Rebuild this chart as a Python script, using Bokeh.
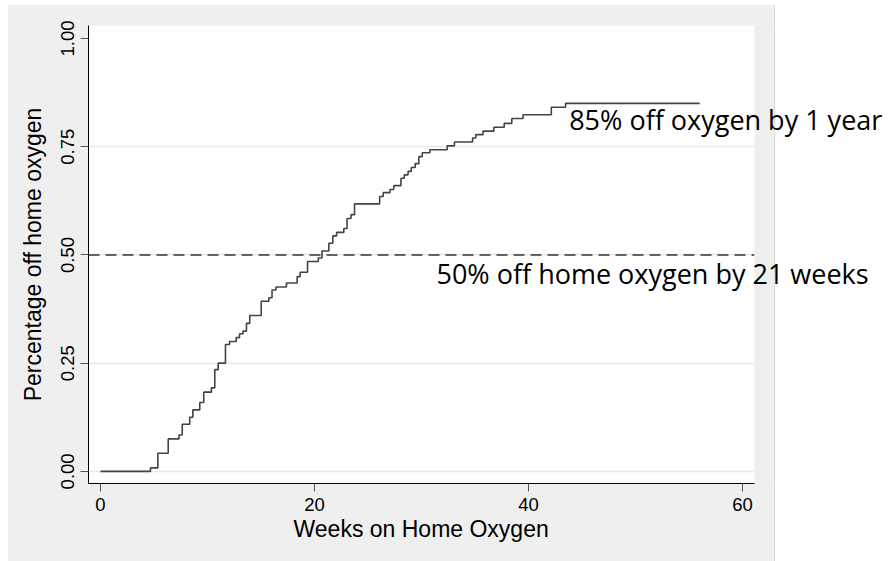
from bokeh.plotting import figure
from bokeh.models import Label, FixedTicker, Range1d, NumeralTickFormatter, Title
from bokeh.embed import file_html
from bokeh.resources import INLINE

# Kaplan-Meier style step data (weeks on home oxygen vs proportion off oxygen)
weeks = [0, 4.67, 5.36, 6.33, 7.34, 7.64, 8.34, 8.63, 9.28, 9.65, 10.36,
         10.68, 11.00, 11.68, 12.06, 12.68, 12.99, 13.32, 13.64, 13.95, 15.02,
         15.73, 16.03, 16.40, 17.38, 18.38, 18.66, 19.35, 20.35, 20.70, 21.34,
         21.71, 22.06, 22.74, 23.04, 23.41, 23.74, 26.09, 26.42, 27.06, 27.41,
         28.08, 28.39, 28.74, 29.04, 29.41, 29.75, 30.07, 30.78, 32.40, 33.08,
         34.77, 35.07, 35.75, 36.76, 37.73, 38.44, 39.49, 42.13, 43.46, 56.0]
prop_off = [0, 0.008, 0.042, 0.075, 0.084, 0.109, 0.125, 0.142, 0.159, 0.183, 0.193,
            0.235, 0.250, 0.293, 0.300, 0.309, 0.318, 0.324, 0.342, 0.360, 0.393,
            0.401, 0.419, 0.426, 0.435, 0.450, 0.460, 0.485, 0.493, 0.509, 0.527,
            0.544, 0.552, 0.561, 0.584, 0.593, 0.618, 0.635, 0.644, 0.651, 0.660,
            0.677, 0.685, 0.693, 0.702, 0.711, 0.727, 0.736, 0.743, 0.752, 0.761,
            0.770, 0.778, 0.786, 0.795, 0.804, 0.815, 0.824, 0.841, 0.850, 0.850]

x_ticks = [0, 20, 40, 60]
y_ticks = [0, 0.25, 0.5, 0.75, 1.0]
grid_ticks = [0, 0.25, 0.5, 0.75]
median_level = 0.5
x_title = "Weeks on Home Oxygen"
y_title = "Percentage off home oxygen"
note_85 = "85% off oxygen by 1 year"
note_85_pos = (43.8, 0.812)
note_50 = "50% off home oxygen by 21 weeks"
note_50_pos = (31.4, 0.458)

# plot region bounds (data units) and the extra room on the right for the notes
x_lo, x_hi = -1.12, 61.1
panel_edge = 63.0
x_view_hi = 73.64
y_lo, y_hi = -0.028, 1.03

GREY = "#efefef"
bg = ("linear-gradient(to bottom, #ffffff 0px, #ffffff 5px, transparent 5px), "
      "linear-gradient(to right, #ffffff 0px, #ffffff 8px, " + GREY + " 8px, " + GREY +
      " 774px, #d9d9d9 774px, #d9d9d9 775px, #ffffff 775px)")

p = figure(width=888, height=561, output_backend="svg", toolbar_location=None,
           x_range=Range1d(x_lo, x_view_hi), y_range=Range1d(y_lo, y_hi),
           min_border_left=88, min_border_right=0, min_border_top=25,
           min_border_bottom=78,
           background_fill_color="white", border_fill_color=None,
           styles={"background": bg})
p.outline_line_color = None

p.xgrid.visible = False
p.ygrid.ticker = FixedTicker(ticks=grid_ticks)
p.ygrid.grid_line_color = "#e8e8e8"
p.ygrid.grid_line_width = 1.5

p.xaxis.ticker = FixedTicker(ticks=x_ticks)
p.xaxis.bounds = (x_lo, x_hi)
p.yaxis.ticker = FixedTicker(ticks=y_ticks)
p.yaxis.formatter = NumeralTickFormatter(format="0.00")
p.yaxis.major_label_orientation = "vertical"

for ax in (p.xaxis[0], p.yaxis[0]):
    ax.axis_line_color = "black"
    ax.axis_line_width = 1
    ax.major_tick_in = 0
    ax.major_tick_out = 8
    ax.major_tick_line_color = "#555555"
    ax.minor_tick_line_color = None
    ax.major_label_text_font = "Liberation Sans"
    ax.major_label_text_font_size = "18.5px"
    ax.major_label_text_color = "black"
    ax.axis_label_text_font = "Liberation Sans"
    ax.axis_label_text_font_size = "23px"
    ax.axis_label_text_font_style = "normal"
    ax.axis_label_text_color = "black"

p.yaxis.axis_label = y_title
p.xaxis.major_label_standoff = 6
p.yaxis.major_label_standoff = 6
p.yaxis.axis_label_standoff = 13

# x-axis title centred under the plot region (not under the notes area)
p.add_layout(Title(text=x_title, align="left", offset=205, standoff=0,
                   text_font="Liberation Sans", text_font_size="23px",
                   text_font_style="normal", text_color="black"), "below")

# grey strip of the panel and white page area right of the plot region
p.quad(left=[x_hi, panel_edge], right=[panel_edge, x_view_hi + 5],
       bottom=[y_lo - 1] * 2, top=[y_hi + 1] * 2,
       fill_color=[GREY, "#ffffff"], line_color=None)
p.segment(x0=[panel_edge], x1=[panel_edge], y0=[y_lo - 1], y1=[y_hi + 1],
          line_color="#d9d9d9", line_width=1)

# dashed reference line at 50%
p.line([x_lo, x_hi], [median_level, median_level], line_color="#333333",
       line_width=1.5, line_dash="11 6")

p.step(weeks, prop_off, mode="after", line_color="#444444", line_width=1.6)

for txt, pos in ((note_85, note_85_pos), (note_50, note_50_pos)):
    p.add_layout(Label(x=pos[0], y=pos[1], text=txt, text_font="Open Sans",
                       text_font_size="27px", text_color="black",
                       text_align="left", text_baseline="alphabetic"))

open("out.html", "w").write(file_html(p, INLINE))
